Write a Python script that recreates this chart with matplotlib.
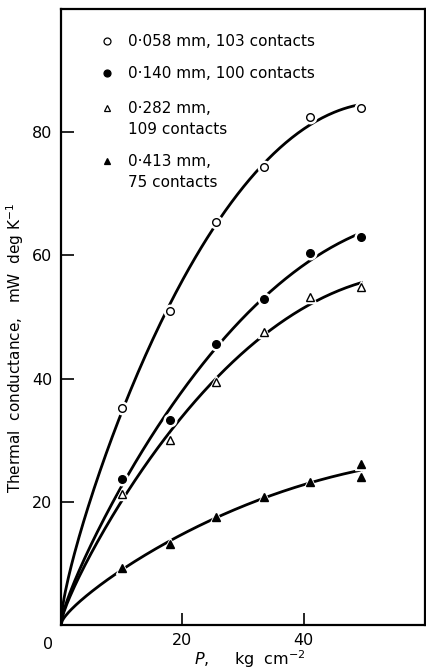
import numpy as np
import matplotlib
matplotlib.use("Agg")
import matplotlib.pyplot as plt

# Applied pressure P (kg cm^-2) and thermal conductance (mW deg K^-1)
p_a = [10, 18, 25.5, 33.5, 41, 49.5]
g_a = [35.3, 50.9, 65.4, 74.4, 82.5, 83.9]      # 0.058 mm, 103 contacts

p_b = [10, 18, 25.5, 33.5, 41, 49.5]
g_b = [23.7, 33.2, 45.6, 52.9, 60.4, 63.0]      # 0.140 mm, 100 contacts

p_c = [10, 18, 25.5, 33.5, 41, 49.5]
g_c = [21.2, 30.0, 39.5, 47.5, 53.3, 54.8]      # 0.282 mm, 109 contacts

p_d = [10, 18, 25.5, 33.5, 41, 49.5, 49.5]
g_d = [9.2, 13.2, 17.5, 20.7, 23.2, 26.1, 24.1]  # 0.413 mm, 75 contacts

labels = ["0·058 mm, 103 contacts", "0·140 mm, 100 contacts",
          "0·282 mm,\n109 contacts", "0·413 mm,\n75 contacts"]

plt.rcParams['font.family'] = ['DejaVu Sans']

fig = plt.figure(figsize=(4.26, 6.72), dpi=100)
ax = fig.add_axes([0.143, 0.070, 0.855, 0.9166])


def fit_curve(x, y):
    # smooth least-squares curve through the origin, like the hand-drawn fit
    x = np.asarray(x, float)
    y = np.asarray(y, float)
    basis = lambda t: np.column_stack([np.sqrt(t), t, t ** 2])
    coef = np.linalg.lstsq(basis(x), y, rcond=None)[0]
    xs = np.linspace(0, x.max(), 200)
    return xs, basis(xs) @ coef


series = [(p_a, g_a, 'o', 'white'), (p_b, g_b, 'o', 'black'),
          (p_c, g_c, '^', 'white'), (p_d, g_d, '^', 'black')]

for x, y, m, fc in series:
    xs, ys = fit_curve(x, y)
    ax.plot(xs, ys, color='black', lw=2, zorder=2)
    # white halo so the line breaks around each point
    ax.plot(x, y, m, ms=9, color='white', ls='none', zorder=3)
    ax.plot(x, y, m, ms=5.5, mfc=fc, mec='black', mew=1.0, ls='none', zorder=4)

# key in the upper left
key_y = [0.948, 0.896, 0.839, 0.753]
for (x, y, m, fc), lab, ky in zip(series, labels, key_y):
    ax.plot([0.126], [ky], m, ms=5, mfc=fc, mec='black', mew=0.9,
            transform=ax.transAxes, clip_on=False)
    ax.text(0.184, ky + 0.011, lab, transform=ax.transAxes, fontsize=11,
            va='top', ha='left', linespacing=1.45)

ax.set_xlim(0, 60)
ax.set_ylim(0, 100)
ax.set_xticks([20, 40])
ax.set_yticks([20, 40, 60, 80])
ax.tick_params(direction='in', length=9, width=1.2, labelsize=11.5, pad=6)
for s in ax.spines.values():
    s.set_linewidth(1.6)

ax.text(-0.035, -0.02, "0", transform=ax.transAxes, fontsize=11.5,
        ha='center', va='top')
ax.set_ylabel("Thermal  conductance,   mW  deg K$^{-1}$", fontsize=11)
ax.yaxis.set_label_coords(-0.125, 0.45)
ax.yaxis.label.set_va('center')
ax.text(0.52, -0.056, "$P$,     kg  cm$^{-2}$", transform=ax.transAxes,
        fontsize=11.5, ha='center', va='center')

fig.savefig("out.png", dpi=100)
